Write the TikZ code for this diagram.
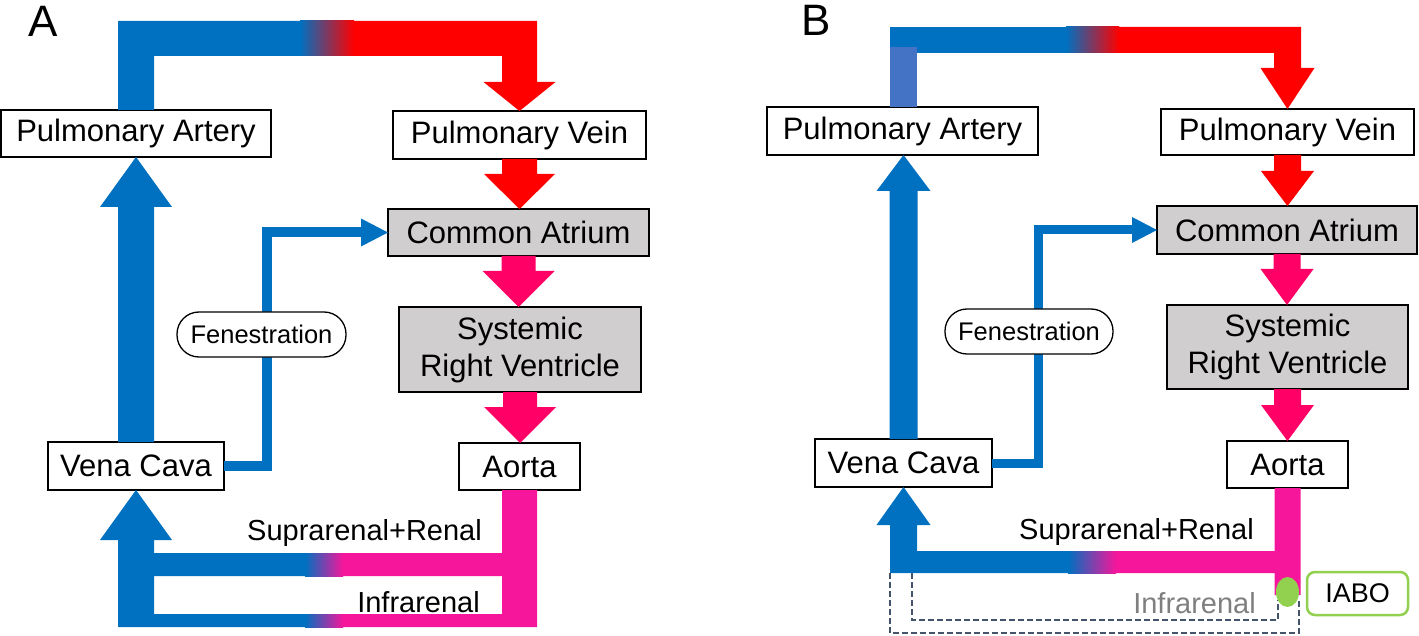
\documentclass[tikz,border=0pt]{standalone}
\usepackage{fontspec}
\setmainfont{Liberation Sans}
\usetikzlibrary{calc}
\definecolor{blu}{HTML}{0070C0}
\definecolor{rd}{HTML}{FF0000}
\definecolor{pka}{HTML}{FF0066}
\definecolor{pkp}{HTML}{F5169B}
\definecolor{boxgray}{HTML}{D0CECE}
\definecolor{lblu}{HTML}{4472C4}
\definecolor{grn}{HTML}{92D050}
\definecolor{dsh}{HTML}{44546A}
\definecolor{txtgray}{HTML}{7F7F7F}
\newcommand\ArrDn[6]{%
  \fill[#3] ($(#1.south)+({-#4/2},0)$) -- ($(#1.south |- #2.north)+({-#4/2},{-#6})$) -- ($(#1.south |- #2.north)+({-#5/2},{-#6})$) -- (#1.south |- #2.north) -- ($(#1.south |- #2.north)+({#5/2},{-#6})$) -- ($(#1.south |- #2.north)+({#4/2},{-#6})$) -- ($(#1.south)+({#4/2},0)$) -- cycle;}
\newcommand\ArrUp[6]{%
  \fill[#3] ($(#1.north)+({-#4/2},0)$) -- ($(#1.north |- #2.south)+({-#4/2},#6)$) -- ($(#1.north |- #2.south)+({-#5/2},#6)$) -- (#1.north |- #2.south) -- ($(#1.north |- #2.south)+({#5/2},#6)$) -- ($(#1.north |- #2.south)+({#4/2},#6)$) -- ($(#1.north)+({#4/2},0)$) -- cycle;}
\tikzset{
  box/.style={draw=black, line width=1.3pt, fill=white, inner sep=0pt, outer sep=0pt, font=\fontsize{31}{37}\selectfont, align=center},
  gbox/.style={box, fill=boxgray, line width=2.6pt},
  pill/.style={draw=black, line width=1.3pt, fill=white, rounded corners=22pt, inner sep=0pt, outer sep=0pt, font=\fontsize{25.5}{30}\selectfont},
  lbl/.style={font=\fontsize{29}{34}\selectfont, inner sep=0pt, anchor=east},
  panel/.style={font=\fontsize{44}{50}\selectfont, inner sep=0pt},
  dline/.style={draw=dsh, line width=2pt, dash pattern=on 6pt off 3pt},
}
\begin{document}
\begin{tikzpicture}[x=1pt,y=-1pt]
\useasboundingbox (0,0) rectangle (1419,636);
% ================= Panel A =================
\node[panel] (labA) at (43,21) {A};
\node[box, minimum width=270pt, minimum height=47pt] (paA) at (136,133.5) {Pulmonary Artery};
\node[box, minimum width=253pt, minimum height=48pt] (pvA) at (519.5,135) {Pulmonary Vein};
\node[gbox, minimum width=261pt, minimum height=47pt] (caA) at (518.5,232.5) {Common Atrium};
\node[gbox, minimum width=242pt, minimum height=85pt] (srvA) at (520,349.5) {Systemic\\Right Ventricle};
\node[box, minimum width=121pt, minimum height=47pt] (aoA) at (519.5,466.5) {Aorta};
\node[box, minimum width=176pt, minimum height=48pt] (vcA) at (136,466) {Vena Cava};
% top pipe A
\fill[blu] ($(paA.north)+(-18,0)$) -- (118,21) -- (300.5,21) -- (300.5,56) -- (154,56) -- ($(paA.north)+(18,0)$) -- cycle;
\shade[left color=blu, right color=rd] (300,21) rectangle (354,56);
\fill[rd] (353.5,21) -- (537,21) -- (537,82) -- (555.5,82) -- (pvA.north) -- (483.5,82) -- (502,82) -- (502,56) -- (353.5,56) -- cycle;
% vertical arrows A
\ArrDn{pvA}{caA}{rd}{35}{71}{35}
\ArrDn{caA}{srvA}{pka}{34}{72}{36}
\ArrDn{srvA}{aoA}{pka}{34}{72}{36}
\ArrUp{vcA}{paA}{blu}{36}{72}{50}
% bottom pipes A
\fill[blu] (vcA.south) -- (172,540) -- (154,540) -- (154,553) -- (305.5,553) -- (305.5,576) -- (154,576) -- (154,614) -- (305.5,614) -- (305.5,627) -- (118,627) -- (118,540) -- (100,540) -- cycle;
\fill[pkp] (342.5,553) -- (502,553) -- ($(aoA.south)+(-17.5,0)$) -- ($(aoA.south)+(17.5,0)$) -- (537,627) -- (342.5,627) -- (342.5,614) -- (502,614) -- (502,576) -- (342.5,576) -- cycle;
\shade[left color=blu, right color=pkp] (305,553) rectangle (343,576);
\shade[left color=blu, right color=pkp] (305,614) rectangle (343,627);
\node[lbl] (supA) at (482,533) {Suprarenal+Renal};
\node[lbl] (infA) at (480,602) {Infrarenal};
% fenestration A
\coordinate (fjA) at (267,0);
\draw[blu, line width=10pt] (vcA.east) -- (vcA.east -| fjA) |- ($(caA.west)+(-26,0)$);
\fill[blu] (caA.west) -- ++(-27,-14) -- ++(0,28) -- cycle;
\node[pill, minimum width=169pt, minimum height=45pt] (fenA) at (261.5,334.5) {Fenestration};
% ================= Panel B =================
\node[panel] (labB) at (816.5,20) {B};
\node[box, minimum width=271pt, minimum height=48pt] (paB) at (902.5,131) {Pulmonary Artery};
\node[box, minimum width=253pt, minimum height=46pt] (pvB) at (1287.5,132) {Pulmonary Vein};
\node[gbox, minimum width=260pt, minimum height=48pt] (caB) at (1287,230) {Common Atrium};
\node[gbox, minimum width=241pt, minimum height=84pt] (srvB) at (1287.5,347) {Systemic\\Right Ventricle};
\node[box, minimum width=121pt, minimum height=47pt] (aoB) at (1287.5,464.5) {Aorta};
\node[box, minimum width=177pt, minimum height=48pt] (vcB) at (903.5,463) {Vena Cava};
% top pipe B
\fill[blu] (890,27) -- (1066.5,27) -- (1066.5,53) -- (890,53) -- cycle;
\fill[lblu] (890,47) rectangle ($(paB.north)+(14.5,0)$);
\shade[left color=blu, right color=rd] (1066,27) rectangle (1119,53);
\fill[rd] (1118.5,27) -- (1301,27) -- (1301,68) -- (1314.5,68) -- (pvB.north) -- (1260.5,68) -- (1274,68) -- (1274,53) -- (1118.5,53) -- cycle;
% vertical arrows B
\ArrDn{pvB}{caB}{rd}{27}{53}{35}
\ArrDn{caB}{srvB}{pka}{27}{53}{36}
\ArrDn{srvB}{aoB}{pka}{27}{53}{36}
\ArrUp{vcB}{paB}{blu}{28}{54}{36}
% dashed removed infrarenal loop
\draw[dline] (890,573) -- (890,633) -- (1299,633) -- (1299,600);
\draw[dline] (912,573) -- (912,620) -- (1278,620) -- (1278,600);
% bottom pipe B
\fill[blu] (vcB.south) -- (930.5,525) -- (917,525) -- (917,551) -- (1068.5,551) -- (1068.5,573) -- (890,573) -- (890,525) -- (876.5,525) -- cycle;
\fill[pkp] (1115.5,551) -- (1274.5,551) -- ($(aoB.south)+(-13,0)$) -- ($(aoB.south)+(13,0)$) -- (1300.5,595) -- (1274.5,595) -- (1274.5,573) -- (1115.5,573) -- cycle;
\shade[left color=blu, right color=pkp] (1068,551) rectangle (1116,573);
\fill[grn] (1287.5,592) ellipse [x radius=11.5, y radius=15];
\node[lbl] (supB) at (1254,532) {Suprarenal+Renal};
\node[lbl, text=txtgray] (infB) at (1256,603) {Infrarenal};
\node[draw=grn, line width=2.5pt, rounded corners=8pt, fill=white, minimum width=101pt, minimum height=43pt, inner sep=0pt, font=\fontsize{27}{32}\selectfont] (iabo) at (1357.5,593.5) {IABO};
% fenestration B
\coordinate (fjB) at (1038,0);
\draw[blu, line width=9pt] (vcB.east) -- (vcB.east -| fjB) |- ($(caB.west)+(-24,0)$);
\fill[blu] (caB.west) -- ++(-25,-13) -- ++(0,26) -- cycle;
\node[pill, minimum width=168pt, minimum height=45pt] (fenB) at (1029,331.5) {Fenestration};
\end{tikzpicture}
\end{document}
